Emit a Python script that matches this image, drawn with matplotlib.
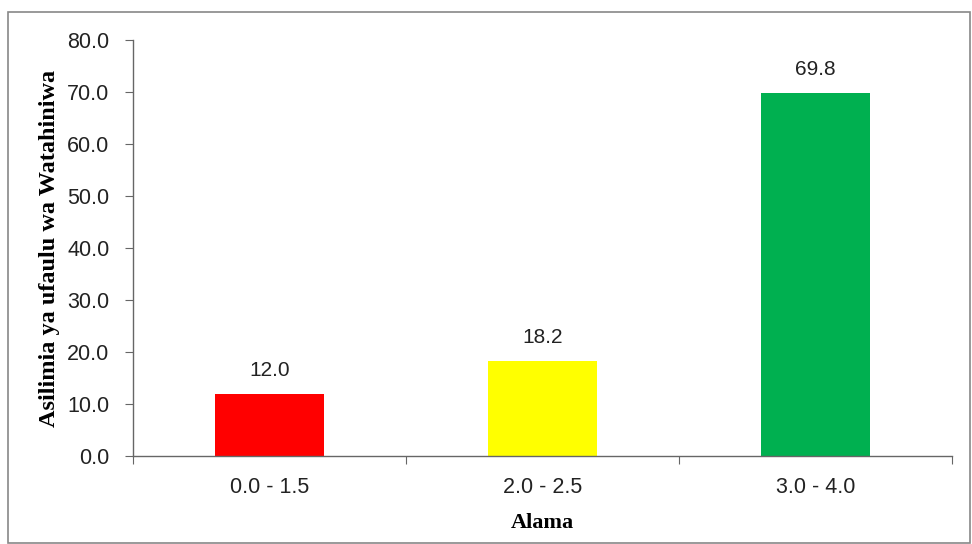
import matplotlib
matplotlib.use("Agg")
import matplotlib.pyplot as plt
from matplotlib.patches import Rectangle

categories = ["0.0 - 1.5", "2.0 - 2.5", "3.0 - 4.0"]
values = [12.0, 18.2, 69.8]
colors = ["#ff0000", "#ffff00", "#00b050"]
yticks = [0, 10, 20, 30, 40, 50, 60, 70, 80]

W, H = 972, 544
fig = plt.figure(figsize=(W / 100, H / 100), dpi=100)
ax = fig.add_axes([133 / W, 1 - 456 / H, (952 - 133) / W, (456 - 40) / H])

x = list(range(len(categories)))
ax.bar(x, values, width=0.4, color=colors, zorder=2)
for xi, v in zip(x, values):
    ax.annotate(f"{v:.1f}", (xi, v), xytext=(0, 10), textcoords="offset points",
                ha="center", va="bottom", fontsize=15, family="Liberation Sans",
                color="#222222")

ax.set_xlim(-0.5, len(categories) - 0.5)
ax.set_ylim(0, 80)
ax.set_yticks(yticks)
ax.set_yticklabels([f"{t:.1f}" for t in yticks], family="Liberation Sans",
                   fontsize=15.5, color="#222222")

# category labels centred, tick marks on the boundaries
ax.set_xticks([i - 0.5 for i in range(len(categories) + 1)])
ax.set_xticklabels([])
ax.set_xticks(x, minor=True)
ax.set_xticklabels(categories, minor=True, family="Liberation Sans",
                   fontsize=15.5, color="#222222")
ax.tick_params(axis="x", which="minor", length=0, pad=15)
ax.tick_params(axis="x", which="major", direction="out", length=6,
               color="#666666")
ax.tick_params(axis="y", direction="out", length=6, color="#666666", pad=11)

for s in ["top", "right"]:
    ax.spines[s].set_visible(False)
for s in ["left", "bottom"]:
    ax.spines[s].set_color("#666666")
    ax.spines[s].set_linewidth(1.0)

ax.set_ylabel("Asilimia ya ufaulu wa Watahiniwa", family="Liberation Serif",
              fontweight="bold", fontsize=17.5, labelpad=5)
ax.set_xlabel("Alama", family="Liberation Serif", fontweight="bold",
              fontsize=16, labelpad=11)

fig.patches.append(Rectangle((8 / W, 1 / H), (970 - 8) / W, (532 - 1) / H,
                             transform=fig.transFigure, fill=False,
                             edgecolor="#888888", linewidth=1.2))

fig.savefig("out.png", dpi=100)
